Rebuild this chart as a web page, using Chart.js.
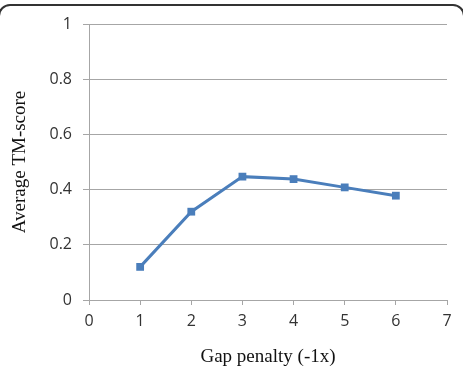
<!DOCTYPE html>
<html>
<head>
<meta charset="utf-8">
<script src="https://cdn.jsdelivr.net/npm/chart.js@4/dist/chart.umd.min.js"></script>
<style>
  body { margin: 0; background: #fff; }
  #wrap { position: relative; width: 463px; height: 370px; overflow: hidden; }
  #frame {
    position: absolute; left: -2px; top: 4px; width: 463px; height: 420px;
    border: 2px solid #333; border-radius: 12px; pointer-events: none;
  }
</style>
</head>
<body>
<div id="wrap">
  <canvas id="chart" width="463" height="370"></canvas>
  <div id="frame"></div>
</div>
<script>
// gap penalty vs average TM-score
let gapPenalty = [1, 2, 3, 4, 5, 6];
let avgTmScore = [0.12, 0.32, 0.447, 0.438, 0.408, 0.378];

let xTitle = "Gap penalty (-1x)";
let yTitle = "Average TM-score";

let gridColor = "#a6a6a6";
let tickFont = {family: "'Open Sans', 'Liberation Sans', sans-serif", size: 16};
let titleFont = {family: "'Liberation Serif', 'DejaVu Serif', serif", size: 19};

let points = [];
for (let i = 0; i < gapPenalty.length; i++) {
    points.push({x: gapPenalty[i], y: avgTmScore[i]});
}

new Chart(document.getElementById("chart"), {
    type: "line",
    data: {
        datasets: [{
            data: points,
            borderColor: "#4a7ebb",
            backgroundColor: "#4a7ebb",
            borderWidth: 3,
            pointStyle: "rect",
            pointRadius: 5.5,
            pointBorderWidth: 0,
            tension: 0
        }]
    },
    options: {
        responsive: false,
        animation: false,
        layout: {padding: {top: 24, right: 16, left: 0, bottom: 0}},
        plugins: {legend: {display: false}, tooltip: {enabled: false}},
        scales: {
            x: {
                type: "linear",
                min: 0, max: 7,
                ticks: {stepSize: 1, color: "#333", font: tickFont, padding: 7},
                grid: {drawOnChartArea: false, color: gridColor, tickLength: 5},
                border: {color: gridColor},
                title: {display: true, text: xTitle, color: "#111", font: titleFont, padding: {top: 0, bottom: 2}},
                afterFit: function (scale) { scale.height = 70; }
            },
            y: {
                min: 0, max: 1,
                ticks: {
                    stepSize: 0.2, color: "#333", font: tickFont, padding: 11,
                    callback: function (v) { return String(Math.round(v * 10) / 10); }
                },
                grid: {color: gridColor, tickLength: 6},
                border: {color: gridColor},
                title: {display: true, text: yTitle, color: "#111", font: titleFont, padding: {top: 9, bottom: 0}},
                afterFit: function (scale) { scale.width = 89; }
            }
        }
    }
});
</script>
</body>
</html>
